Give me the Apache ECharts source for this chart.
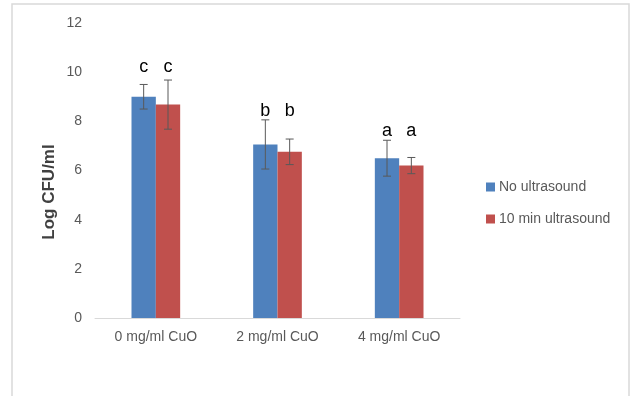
<!DOCTYPE html>
<html>
<head>
<meta charset="utf-8">
<script src="https://cdn.jsdelivr.net/npm/echarts@6/dist/echarts.min.js"></script>
<style>
  html, body { margin: 0; padding: 0; background: #fff; }
  #chart { width: 633px; height: 396px; }
</style>
</head>
<body>
<div id="chart"></div>
<script>
// CuO concentration groups
const categories = ['0 mg/ml CuO', '2 mg/ml CuO', '4 mg/ml CuO'];

// Mean viable counts (Log CFU/ml)
const noUltrasound = [9.0, 7.06, 6.5];
const tenMinUltrasound = [8.68, 6.76, 6.2];

// Standard deviations
const noUltrasoundErr = [0.5, 1.0, 0.73];
const tenMinUltrasoundErr = [1.0, 0.52, 0.33];

// Significance letters per group
const groupLetters = ['c', 'b', 'a'];

// Y-axis tick values
const yTicks = [0, 2, 4, 6, 8, 10, 12];

const seriesNames = ['No ultrasound', '10 min ultrasound'];
const colors = ['#4F81BD', '#C0504D'];

// Height (axis units) at which each group's letters sit
const letterLevel = [10.2, 8.4, 7.6];

const BAR_GAP_RATIO = 0.4; // bars take 40% of a category band

function errorSeries(idx, means, errs) {
  const data = means.map((m, i) => [i, m, errs[i]]);
  return {
    type: 'custom',
    name: seriesNames[idx] + ' error',
    z: 10,
    silent: true,
    data: data,
    encode: { x: 0, y: 1 },
    renderItem: function (params, api) {
      const ci = api.value(0);
      const mean = api.value(1);
      const err = api.value(2);
      const band = api.size([1, 0])[0];
      const barW = band * BAR_GAP_RATIO / 2;
      const center = api.coord([ci, mean])[0];
      const x = center + (idx === 0 ? -barW / 2 : barW / 2);
      const yTop = api.coord([ci, mean + err])[1];
      const yBot = api.coord([ci, mean - err])[1];
      const yLetter = api.coord([ci, letterLevel[ci]])[1];
      const cap = 4;
      const st = { stroke: '#595959', lineWidth: 1 };
      return {
        type: 'group',
        children: [
          { type: 'line', shape: { x1: x, y1: yTop, x2: x, y2: yBot }, style: st },
          { type: 'line', shape: { x1: x - cap, y1: yTop, x2: x + cap, y2: yTop }, style: st },
          { type: 'line', shape: { x1: x - cap, y1: yBot, x2: x + cap, y2: yBot }, style: st },
          {
            type: 'text',
            style: {
              x: x, y: yLetter,
              text: groupLetters[ci],
              fill: '#000',
              font: '18px "Liberation Sans", Arial, sans-serif',
              textAlign: 'center',
              textVerticalAlign: 'middle'
            }
          }
        ]
      };
    }
  };
}

const chart = echarts.init(document.getElementById('chart'), null, { renderer: 'canvas' });

chart.setOption({
  animation: false,
  backgroundColor: '#fff',
  textStyle: { fontFamily: '"Liberation Sans", Arial, sans-serif' },
  grid: { left: 95, right: 173, top: 23, bottom: 78, containLabel: false },
  legend: {
    orient: 'vertical',
    left: 481,
    top: 175,
    itemWidth: 9,
    itemHeight: 9,
    itemGap: 18,
    icon: 'rect',
    data: seriesNames,
    textStyle: { color: '#595959', fontSize: 14, padding: [0, 0, 0, -1] }
  },
  xAxis: {
    type: 'category',
    data: categories,
    axisLine: { lineStyle: { color: '#d9d9d9', width: 1 } },
    axisTick: { show: false },
    axisLabel: { color: '#595959', fontSize: 14, margin: 12 }
  },
  yAxis: {
    type: 'value',
    min: yTicks[0],
    max: yTicks[yTicks.length - 1],
    interval: yTicks[1] - yTicks[0],
    axisLine: { show: false },
    axisTick: { show: false },
    splitLine: { show: false },
    axisLabel: { color: '#595959', fontSize: 14, margin: 13 }
  },
  graphic: [
    {
      type: 'rect',
      shape: { x: 12, y: 4, width: 617, height: 400 },
      style: { fill: 'none', stroke: '#d9d9d9', lineWidth: 1.5 },
      silent: true,
      z: -1
    },
    {
      type: 'text',
      x: 49,
      y: 192,
      rotation: Math.PI / 2,
      style: {
        text: 'Log CFU/ml',
        fill: '#404040',
        font: 'bold 17px "Liberation Sans", Arial, sans-serif',
        textAlign: 'center',
        textVerticalAlign: 'middle'
      }
    }
  ],
  series: [
    {
      name: seriesNames[0],
      type: 'bar',
      data: noUltrasound,
      barGap: '0%',
      barCategoryGap: '60%',
      itemStyle: { color: colors[0] }
    },
    {
      name: seriesNames[1],
      type: 'bar',
      data: tenMinUltrasound,
      barGap: '0%',
      barCategoryGap: '60%',
      itemStyle: { color: colors[1] }
    },
    errorSeries(0, noUltrasound, noUltrasoundErr),
    errorSeries(1, tenMinUltrasound, tenMinUltrasoundErr)
  ]
});
</script>
</body>
</html>
